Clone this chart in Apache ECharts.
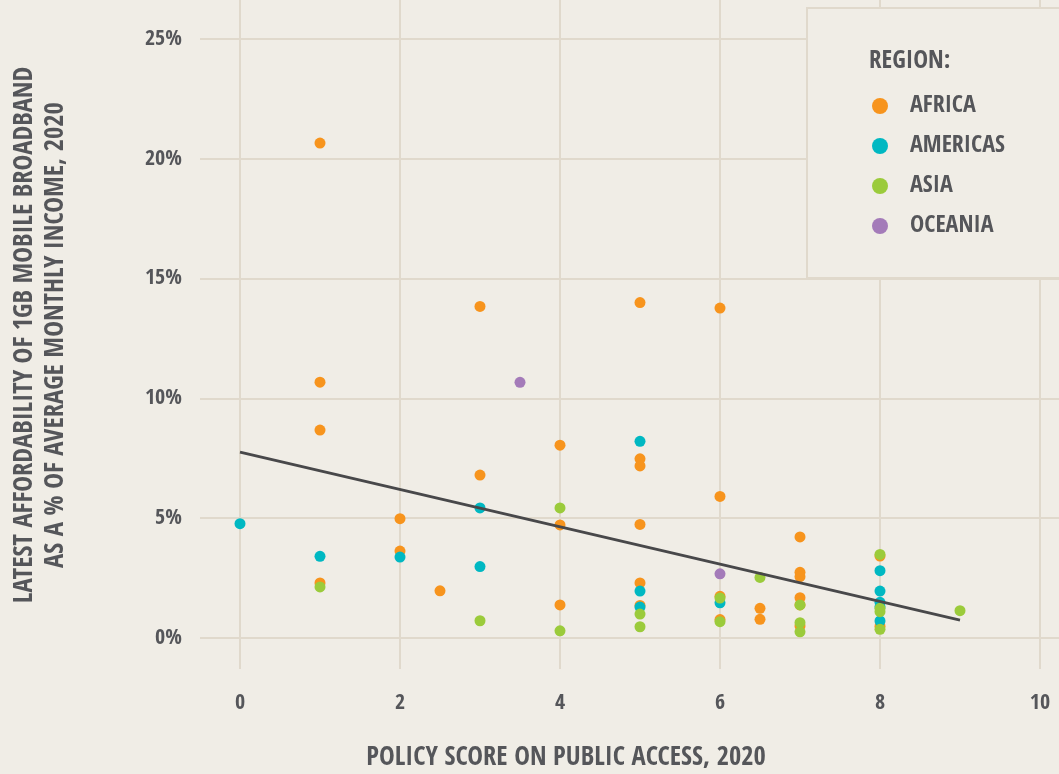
<!DOCTYPE html>
<html>
<head>
<meta charset="utf-8">
<script src="https://cdn.jsdelivr.net/npm/echarts@6/dist/echarts.min.js"></script>
<style>
html,body{margin:0;padding:0;background:#f0ede6;}
#chart{width:1059px;height:774px;}
</style>
</head>
<body>
<div id="chart"></div>
<script>
// ---- data ----
const regions = ['AFRICA', 'AMERICAS', 'ASIA', 'OCEANIA'];
const africaX = [1, 1, 1, 1, 2, 2, 2.5, 3, 3, 4, 4, 4, 5, 5, 5, 5, 5, 5, 6, 6, 6, 6, 6.5, 6.5, 7, 7, 7, 7, 7, 7, 8, 8];
const africaY = [20.66, 10.68, 8.68, 2.3, 4.98, 3.63, 1.97, 13.84, 6.8, 8.05, 4.72, 1.38, 14.0, 7.48, 7.18, 4.74, 2.3, 1.36, 13.77, 5.91, 1.74, 0.77, 1.24, 0.78, 4.22, 2.74, 2.56, 1.68, 1.38, 0.5, 3.42, 0.49];
const americasX = [0, 1, 2, 3, 3, 5, 5, 5, 6, 8, 8, 8, 8, 8];
const americasY = [4.77, 3.41, 3.38, 5.43, 2.98, 8.21, 1.96, 1.29, 1.47, 2.81, 1.96, 1.49, 1.3, 0.71];
const asiaX = [1, 3, 4, 4, 5, 5, 6, 6, 6.5, 7, 7, 7, 8, 8, 8, 8, 9];
const asiaY = [2.13, 0.72, 5.43, 0.3, 1.0, 0.47, 0.68, 1.67, 2.53, 0.64, 0.26, 1.38, 3.49, 1.24, 1.1, 0.36, 1.14];
const oceaniaX = [3.5, 6];
const oceaniaY = [10.67, 2.68];
const trendX = [0, 9];
const trendY = [7.76, 0.75];
const xTicks = [0, 2, 4, 6, 8, 10];
const yTicks = [0, 5, 10, 15, 20, 25];
const xTitle = 'POLICY SCORE ON PUBLIC ACCESS, 2020';
const yTitle1 = 'LATEST AFFORDABILITY OF 1GB MOBILE BROADBAND';
const yTitle2 = 'AS A % OF AVERAGE MONTHLY INCOME, 2020';
const legendTitle = 'REGION:';

// ---- styling ----
const FONT = "'Open Sans Condensed', 'DejaVu Sans Condensed', 'Liberation Sans Narrow', 'Noto Sans', sans-serif";
const TEXT = '#55565a';
const GRID = '#e0d9cc';
const colors = ['#f7941d', '#00b8c2', '#9bcb3b', '#a47bb9'];

function pairs(xs, ys) { return xs.map((x, i) => [x, ys[i]]); }
const seriesData = [pairs(africaX, africaY), pairs(americasX, americasY), pairs(asiaX, asiaY), pairs(oceaniaX, oceaniaY)];

const chart = echarts.init(document.getElementById('chart'), null, {renderer: 'canvas'});
const option = {
  backgroundColor: '#f0ede6',
  animation: false,
  textStyle: {fontFamily: FONT},
  grid: {left: 200, right: 0, top: 0, bottom: 105, containLabel: false},
  xAxis: {
    type: 'value', min: -0.5, max: 10.2375,
    axisLine: {show: false},
    axisTick: {show: false, customValues: xTicks},
    axisLabel: {customValues: xTicks, color: TEXT, fontFamily: FONT, fontWeight: 'bold', fontSize: 22, margin: 23},
    splitLine: {show: true, lineStyle: {color: GRID, width: 2}}
  },
  yAxis: {
    type: 'value', min: -1.294, max: 26.63,
    axisLine: {show: false},
    axisTick: {show: false, customValues: yTicks},
    axisLabel: {customValues: yTicks, formatter: '{value}%', color: TEXT, fontFamily: FONT, fontWeight: 'bold', fontSize: 22, margin: 18},
    splitLine: {show: true, lineStyle: {color: GRID, width: 2}}
  },
  legend: {
    data: regions, orient: 'vertical', left: 872, top: 94, padding: 0,
    itemWidth: 16, itemHeight: 16, itemGap: 16, icon: 'circle', z: 10,
    textStyle: {color: TEXT, fontFamily: FONT, fontWeight: 'bold', fontSize: 24, lineHeight: 22, padding: [0, 0, 0, 17]}
  },
  graphic: [
    {type: 'rect', z: 5, shape: {x: 807, y: 8, width: 270, height: 270}, style: {fill: '#f0ede6', stroke: GRID, lineWidth: 2}},
    {type: 'text', z: 6, x: 869, y: 61, style: {text: legendTitle, fill: TEXT, font: 'bold 25px ' + FONT, textVerticalAlign: 'middle'}},
    {type: 'text', z: 6, x: 566, y: 758, style: {text: xTitle, fill: TEXT, font: 'bold 26.5px ' + FONT, textAlign: 'center', textVerticalAlign: 'middle'}},
    {type: 'text', z: 6, x: 25, y: 335, rotation: Math.PI / 2, style: {text: yTitle1, fill: TEXT, font: 'bold 26.5px ' + FONT, textAlign: 'center', textVerticalAlign: 'middle'}},
    {type: 'text', z: 6, x: 56, y: 335, rotation: Math.PI / 2, style: {text: yTitle2, fill: TEXT, font: 'bold 26.5px ' + FONT, textAlign: 'center', textVerticalAlign: 'middle'}}
  ],
  series: regions.map((name, i) => ({
    name: name, type: 'scatter', data: seriesData[i], symbolSize: 11,
    itemStyle: {color: colors[i], opacity: 1}, z: 2
  })).concat([{
    type: 'line', data: pairs(trendX, trendY), showSymbol: false, symbol: 'none',
    lineStyle: {color: '#48484a', width: 2.8}, z: 3, silent: true
  }])
};
chart.setOption(option);
</script>
</body>
</html>
